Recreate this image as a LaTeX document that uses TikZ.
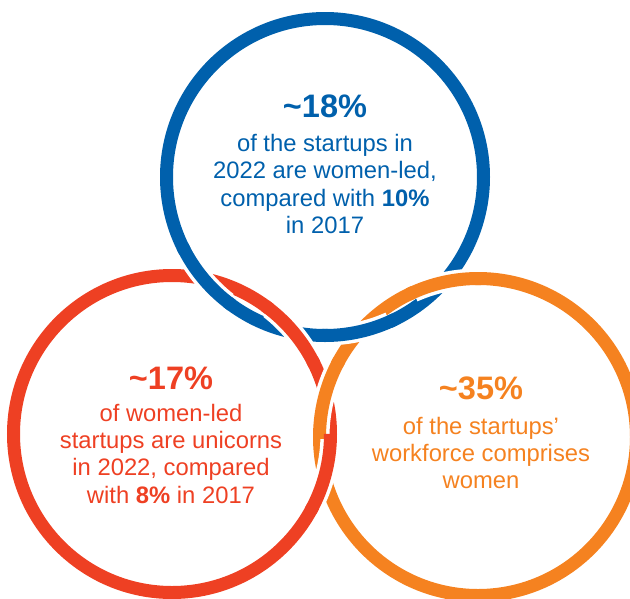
\documentclass[tikz,border=0pt]{standalone}
\usepackage{fontspec}
\setmainfont{Liberation Sans}
\definecolor{ringblue}{HTML}{0060AC}
\definecolor{ringred}{HTML}{EE4023}
\definecolor{ringorange}{HTML}{F58220}
\tikzset{
  ring/.style={line width=13pt},
  stattext/.style={align=center, inner sep=0pt, font=\fontsize{23.8}{27.3}\selectfont}
}

\begin{document}
\begin{tikzpicture}[x=1pt, y=-1pt]

% ---------- frame ----------
\useasboundingbox (0,0) rectangle (630,598);
\clip (0,0) rectangle (630,598);

% ---------- dimensions ----------
\def\rr{158.5}
\def\ringw{13pt}
\def\gapw{20pt}

% ---------- ring centres ----------
\coordinate (bluec) at (325,177);
\coordinate (redc) at (172,434);
\coordinate (orangec) at (478,437);

% ---------- over-crossing macro ----------
\newcommand{\overring}[4]{%
  % #1 = colour, #2 = centre, #3 = from angle, #4 = to angle
  \draw[white, line width=\gapw]
    ([shift={(#3:\rr)}]#2) arc[start angle=#3, end angle=#4, radius=\rr];
  % coloured part a little longer, so no seam shows at the ends
  \pgfmathsetmacro{\aa}{#3-2}
  \pgfmathsetmacro{\bb}{#4+2}
  \draw[#1, line width=\ringw]
    ([shift={(\aa:\rr)}]#2) arc[start angle=\aa, end angle=\bb, radius=\rr];
}

% full rings
\draw[ring, ringred] (redc) circle[radius=\rr];
\draw[ring, ringorange] (orangec) circle[radius=\rr];
\draw[ring, ringblue] (bluec) circle[radius=\rr];

% weaving
\overring{ringblue}{bluec}{128}{152}
\overring{ringblue}{bluec}{66}{89}
\overring{ringorange}{orangec}{-114}{-91}
\overring{ringorange}{orangec}{181}{207}
\overring{ringred}{redc}{-52}{-28}
\overring{ringred}{redc}{2}{27}

% ---------- texts ----------
\node[stattext, text=ringblue] (bluetext) at (325,164)
  {{\fontsize{32.5}{36}\selectfont\bfseries \textasciitilde18\%}\\[7pt]
   of the startups in\\
   2022 are women-led,\\
   compared with \textbf{10\%}\\
   in 2017};

\node[stattext, text=ringred] (redtext) at (171,435)
  {{\fontsize{32.5}{36}\selectfont\bfseries \textasciitilde17\%}\\[5pt]
   of women-led\\
   startups are unicorns\\
   in 2022, compared\\
   with \textbf{8\%} in 2017};

\node[stattext, text=ringorange] (orangetext) at (481,433)
  {{\fontsize{32.5}{36}\selectfont\bfseries \textasciitilde35\%}\\[7pt]
   of the startups’\\
   workforce comprises\\
   women};

\end{tikzpicture}
\end{document}
